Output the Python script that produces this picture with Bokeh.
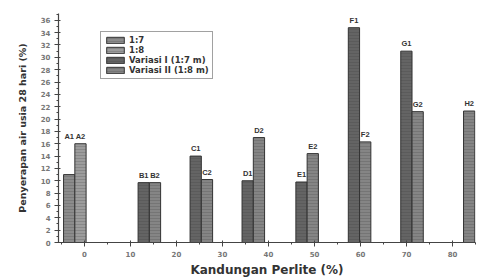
from bokeh.plotting import figure
from bokeh.models import ColumnDataSource, Range1d, Legend, LegendItem, LabelSet, SingleIntervalTicker
from bokeh.core.properties import value
from bokeh.embed import file_html
from bokeh.resources import INLINE

# ---- data ----
groups = ["A", "B", "C", "D", "E", "F", "G", "H"]
group_pos = [-2.1, 14.1, 25.4, 36.7, 48.4, 59.8, 71.2, 82.4]   # perlite axis position of each pair
ratio_17 = [11.0, 9.7, 14.0, 10.0, 9.8, 34.8, 31.0, None]    # series "1" bars (A1..G1)
ratio_18 = [16.0, 9.7, 10.2, 17.0, 14.4, 16.3, 21.2, 21.3]   # series "2" bars (A2..H2)
legend_labels = ["1:7", "1:8", "Variasi I (1:7 m)", "Variasi II (1:8 m)"]
x_label = "Kandungan Perlite (%)"
y_label = "Penyerapan air usia 28 hari (%)"

W = 2.45  # bar width in data units

p = figure(width=488, height=279, output_backend="svg", toolbar_location=None,
           x_range=Range1d(-5.65, 85.0), y_range=Range1d(0, 37.1),
           min_border_left=58, min_border_right=13, min_border_top=13, min_border_bottom=36)
p.outline_line_color = None
p.xgrid.visible = False
p.ygrid.visible = False

FONT = "DejaVu Sans"
LFONT = "Liberation Sans"

def src(idx, vals, side):
    xs, tops = [], []
    for i in idx:
        v = vals[i]
        if v is None:
            continue
        xs.append(group_pos[i] + side * W / 2)
        tops.append(v)
    return ColumnDataSource(dict(x=xs, top=tops))

ctrl = [0]
var = list(range(1, len(groups)))
styles = [
    (ctrl, ratio_17, -1, "#8c8c8c"),
    (ctrl, ratio_18, +1, "#9c9c9c"),
    (var, ratio_17, -1, "#646464"),
    (var, ratio_18, +1, "#858585"),
]
renderers = []
for idx, vals, side, col in styles:
    s = src(idx, vals, side)
    r = p.vbar(x="x", top="top", width=W, bottom=0, source=s, fill_color=col,
               line_color="#333333", line_width=1,
               hatch_pattern="horizontal_line", hatch_scale=3, hatch_color="#3a3a3a",
               hatch_alpha=0.35, hatch_weight=0.6)
    renderers.append(r)

# bar labels
lab_x, lab_y, lab_t = [], [], []
for i, g in enumerate(groups):
    pair = [v for v in (ratio_17[i], ratio_18[i]) if v is not None]
    for side, vals in ((-1, ratio_17), (1, ratio_18)):
        v = vals[i]
        if v is None:
            continue
        base = max(pair) if i == 0 else v
        lab_x.append(group_pos[i] + side * W / 2)
        lab_y.append(base)
        lab_t.append(g + ("1" if side < 0 else "2"))
lsrc = ColumnDataSource(dict(x=lab_x, y=lab_y, t=lab_t))
p.add_layout(LabelSet(x="x", y="y", text="t", source=lsrc, text_align="center",
                      text_baseline="bottom", y_offset=3, text_font=value(LFONT),
                      text_font_size="7.5px", text_font_style="bold", text_color="#333333"))

legend = Legend(items=[LegendItem(label=legend_labels[k], renderers=[renderers[k]]) for k in range(4)],
                location=(42, 163), border_line_color="#444444", border_line_width=1.5,
                padding=3, spacing=0, margin=0, glyph_height=8, glyph_width=22, label_height=8,
                label_text_font=FONT, label_text_font_size="8.5px", label_text_font_style="bold",
                label_text_color="#333333", label_standoff=3, background_fill_alpha=1)
p.add_layout(legend)

# axes
p.xaxis.ticker = SingleIntervalTicker(interval=10, num_minor_ticks=2)
p.yaxis.ticker = SingleIntervalTicker(interval=2, num_minor_ticks=2)
for ax in (p.xaxis[0], p.yaxis[0]):
    ax.axis_line_color = "#444444"
    ax.axis_line_width = 1.2
    ax.major_tick_line_color = "#444444"
    ax.minor_tick_line_color = "#444444"
    ax.major_tick_out = 4
    ax.major_tick_in = 2
    ax.minor_tick_out = 2
    ax.minor_tick_in = 0
    ax.major_label_text_font = FONT
    ax.major_label_text_font_size = "7px"
    ax.major_label_text_font_style = "bold"
    ax.major_label_text_color = "#777777"
    ax.axis_label_text_font = FONT
    ax.axis_label_text_font_style = "bold"
    ax.axis_label_text_color = "#333333"
p.xaxis.axis_label = x_label
p.yaxis.axis_label = y_label
p.xaxis.axis_label_text_font_size = "12px"
p.yaxis.axis_label_text_font_size = "9.5px"
p.xaxis.axis_label_standoff = 3
p.yaxis.axis_label_standoff = 10
p.xaxis.major_label_standoff = 4
p.yaxis.major_label_standoff = 4

open("out.html", "w").write(file_html(p, INLINE))
